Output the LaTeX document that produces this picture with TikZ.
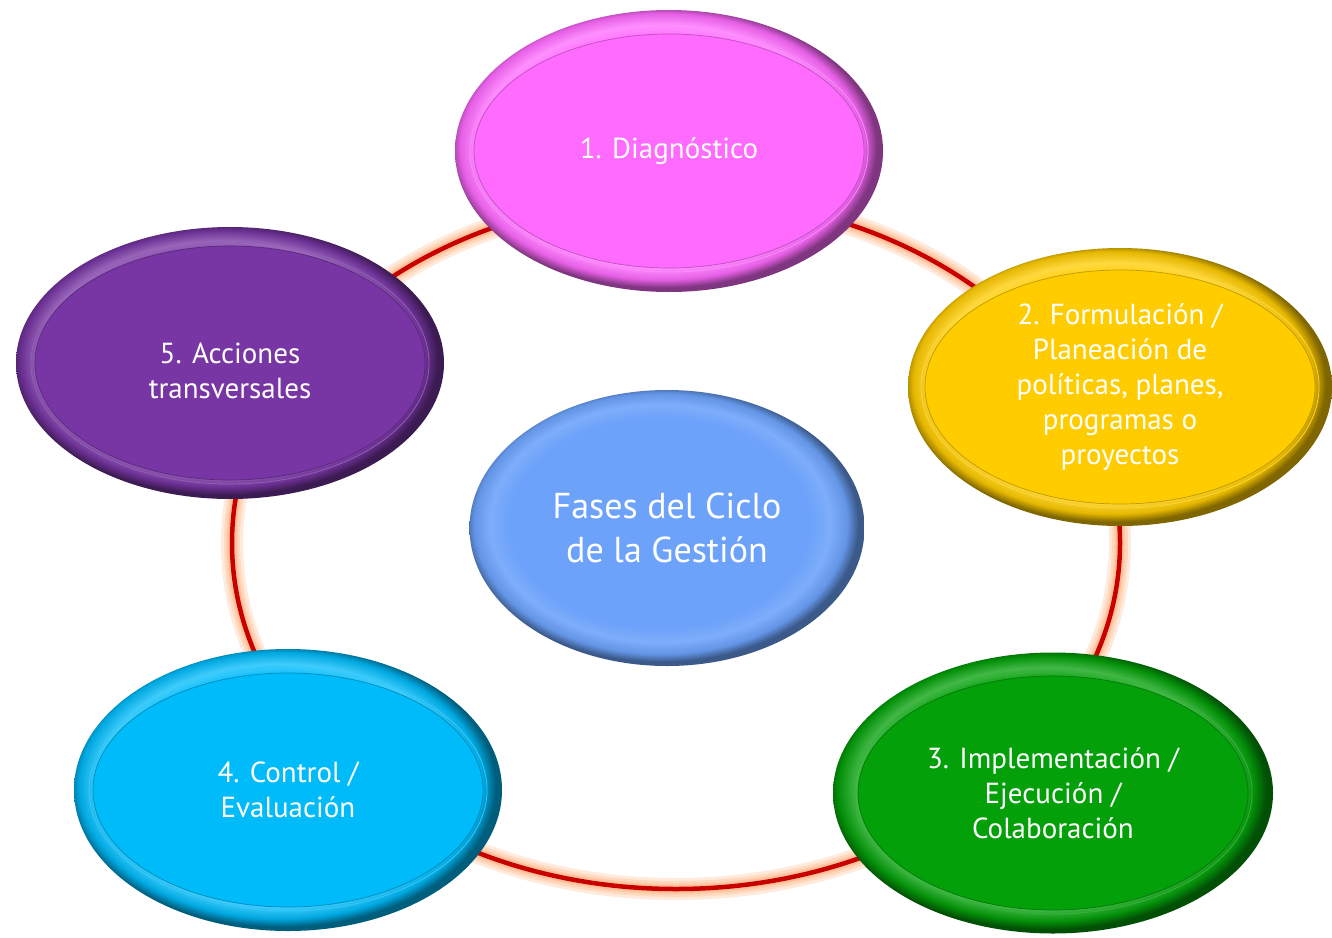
\documentclass[tikz,border=0pt]{standalone}
\usepackage{fontspec}
\setmainfont{PT Sans}
\usetikzlibrary{shapes.geometric}

\definecolor{diagC}{RGB}{255,106,255}
\definecolor{formC}{RGB}{255,204,0}
\definecolor{implC}{RGB}{4,160,10}
\definecolor{contC}{RGB}{0,187,250}
\definecolor{accC}{RGB}{120,54,164}
\definecolor{fasesC}{RGB}{108,162,250}
\definecolor{cicloC}{RGB}{200,0,0}
\definecolor{glowC}{RGB}{255,150,80}

% colours of the bevel, set again for every ellipse
\colorlet{rimA}{white}
\colorlet{rimB}{white}
\colorlet{rimC}{black}
\colorlet{rimD}{black}
\pgfdeclareradialshading[rimA,rimB,rimC,rimD]{rim}{\pgfpoint{-1.5bp}{1.5bp}}{%
  color(0bp)=(rimA); color(19bp)=(rimA); color(21.5bp)=(rimB);
  color(23.6bp)=(rimC); color(25bp)=(rimD); color(50bp)=(rimD)}

\tikzset{
  fase/.style={ellipse, minimum width=428pt, minimum height=282pt, inner sep=0pt,
    text=white, align=center, font=\fontsize{29}{35}\selectfont,
    path picture={
      \colorlet{rimA}{#1}\colorlet{rimB}{#1!75!white}
      \colorlet{rimC}{#1!90!black}\colorlet{rimD}{#1!50!black}
      \shade[shading=rim] (path picture bounding box.south west)
        rectangle (path picture bounding box.north east);
      % inner flat part
      \draw[#1!80!white, line width=.8pt] (path picture bounding box.center)
        ellipse [x radius=199pt, y radius=121pt];
      \fill[#1] (path picture bounding box.center) ellipse [x radius=195pt, y radius=117pt];
      \draw[#1!75!black, line width=.7pt] (path picture bounding box.center)
        ellipse [x radius=195pt, y radius=117pt];
    }},
  fases/.style={ellipse, minimum width=395pt, minimum height=276pt, inner sep=0pt,
    text=white, align=center, font=\fontsize{36}{44}\selectfont,
    path picture={
      \colorlet{rimA}{#1}\colorlet{rimB}{#1!88!white}
      \colorlet{rimC}{#1!92!black}\colorlet{rimD}{#1!55!black}
      \shade[shading=rim] (path picture bounding box.south west)
        rectangle (path picture bounding box.north east);
    }},
  ciclo/.style={cicloC, line width=4.5pt},
  halo/.style={glowC, line width=#1, opacity=.2}
}

\begin{document}
\begin{tikzpicture}[x=1pt, y=-1pt]
  \useasboundingbox[fill=white] (0,0) rectangle (1332,937);

  % the cycle behind the phases
  \coordinate (centro) at (676,543);
  \foreach \w in {22pt,16pt,11pt,8pt}
    \draw[halo=\w] (centro) ellipse [x radius=444, y radius=346];
  \draw[ciclo] (centro) ellipse [x radius=444, y radius=346];

  \node[fase=diagC] (diag) at (669,151) {1. Diagnóstico};
  \node[fase=formC, minimum width=424pt, minimum height=278pt] (form) at (1120,387)
    {2. Formulación /\\Planeación de\\políticas, planes,\\programas o\\proyectos};
  \node[fase=implC, minimum width=440pt, minimum height=281pt] (impl) at (1053,793)
    {3. Implementación /\\Ejecución /\\Colaboración};
  \node[fase=contC] (cont) at (288,790) {4. Control /\\Evaluación};
  \node[fase=accC, minimum height=272pt] (acc) at (230,363) {};
  \node[text=white, align=center, font=\fontsize{29}{35}\selectfont] (accT)
    at ([yshift=-8pt]acc.center) {5. Acciones\\transversales};

  \node[fases=fasesC] (fases) at (667,528) {Fases del Ciclo\\de la Gestión};

\end{tikzpicture}
\end{document}
